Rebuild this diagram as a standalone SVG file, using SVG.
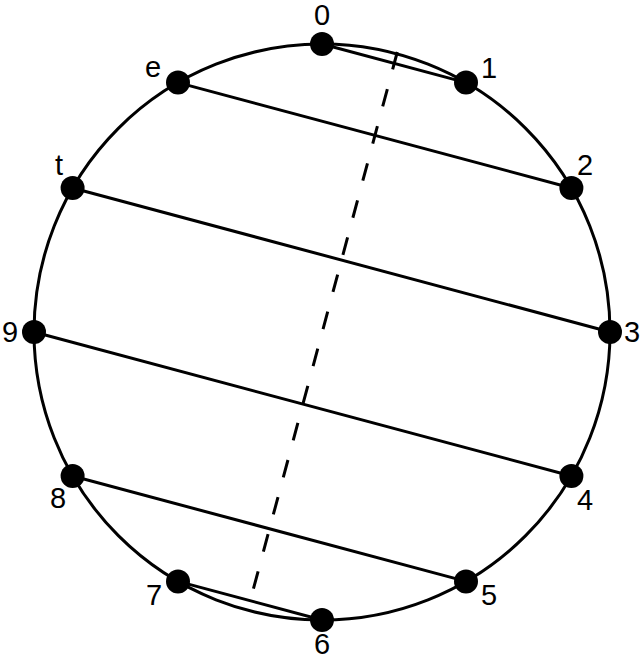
<svg xmlns="http://www.w3.org/2000/svg" width="642" height="660" viewBox="0 0 642 660">
<style>
.ln{stroke:#000;stroke-width:3;fill:none}
.dash{stroke:#000;stroke-width:3;fill:none;stroke-dasharray:18 20.4}
.dot{fill:#000}
.lbl{font-family:"Liberation Sans",Arial,sans-serif;font-size:29px;fill:#000;text-anchor:middle}
</style>
<rect width="642" height="660" fill="#fff"/>
<g id="circle"><circle class="ln" cx="322" cy="332" r="288"/></g>
<g id="connectors">
<line class="ln" x1="322" y1="44" x2="466" y2="82.6"/>
<line class="ln" x1="178" y1="82.6" x2="571.4" y2="188"/>
<line class="ln" x1="72.6" y1="188" x2="610" y2="332"/>
<line class="ln" x1="34" y1="332" x2="571.4" y2="476"/>
<line class="ln" x1="72.6" y1="476" x2="466" y2="581.4"/>
<line class="ln" x1="178" y1="581.4" x2="322" y2="620"/>
<line class="dash" x1="397.3" y1="52" x2="253.1" y2="590"/>
</g>
<g id="n0"><circle class="dot" cx="322" cy="44" r="12"/><text class="lbl" x="322" y="25">0</text></g>
<g id="n1"><circle class="dot" cx="466" cy="82.6" r="12"/><text class="lbl" x="489" y="78">1</text></g>
<g id="n2"><circle class="dot" cx="571.4" cy="188" r="12"/><text class="lbl" x="585" y="175">2</text></g>
<g id="n3"><circle class="dot" cx="610" cy="332" r="12"/><text class="lbl" x="632" y="342">3</text></g>
<g id="n4"><circle class="dot" cx="571.4" cy="476" r="12"/><text class="lbl" x="585" y="510">4</text></g>
<g id="n5"><circle class="dot" cx="466" cy="581.4" r="12"/><text class="lbl" x="489" y="605">5</text></g>
<g id="n6"><circle class="dot" cx="322" cy="620" r="12"/><text class="lbl" x="322" y="653.5">6</text></g>
<g id="n7"><circle class="dot" cx="178" cy="581.4" r="12"/><text class="lbl" x="154" y="605">7</text></g>
<g id="n8"><circle class="dot" cx="72.6" cy="476" r="12"/><text class="lbl" x="58" y="508">8</text></g>
<g id="n9"><circle class="dot" cx="34" cy="332" r="12"/><text class="lbl" x="10" y="342">9</text></g>
<g id="nt"><circle class="dot" cx="72.6" cy="188" r="12"/><text class="lbl" x="59" y="175">t</text></g>
<g id="ne"><circle class="dot" cx="178" cy="82.6" r="12"/><text class="lbl" x="153" y="77">e</text></g>
</svg>
